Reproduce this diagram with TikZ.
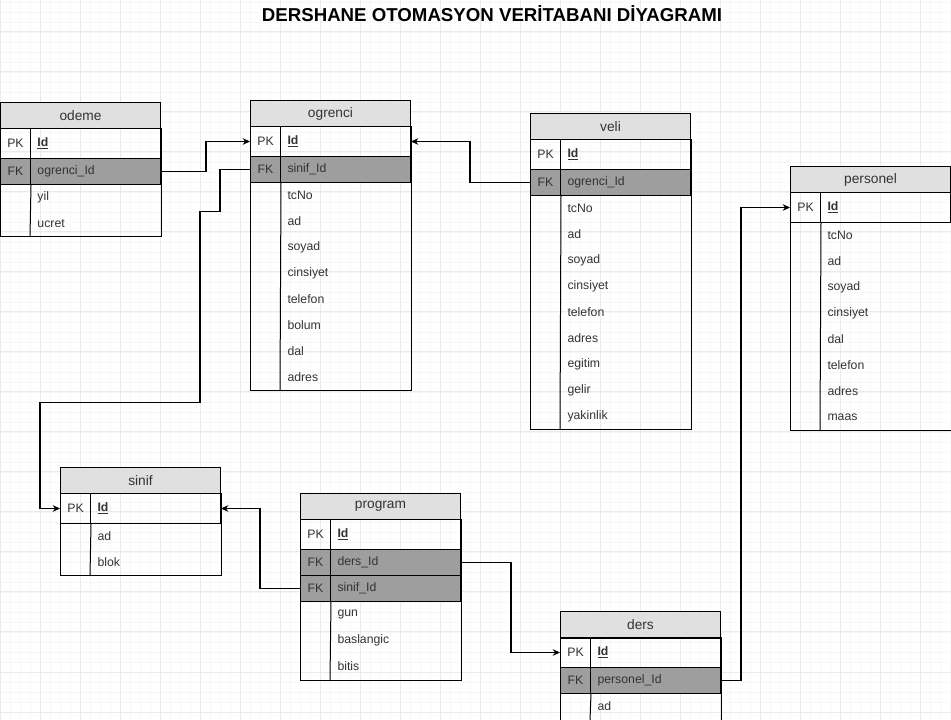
\documentclass[tikz,border=0pt]{standalone}
\usepackage{fontspec}
\setmainfont{Liberation Sans}
\usetikzlibrary{positioning}
\usetikzlibrary{arrows.meta}

\definecolor{hdrgray}{HTML}{E0E0E0}
\definecolor{fkgray}{HTML}{9E9E9E}
\definecolor{txtgray}{HTML}{333333}
\definecolor{minorgrid}{HTML}{F7F7F7}
\definecolor{majorgrid}{HTML}{EAEAEA}

\tikzset{
  tbl/.style={draw, fill=hdrgray, anchor=north west, minimum width=120pt, minimum height=19.5pt,
    inner sep=0pt, text=txtgray, font=\fontsize{10.3}{12}\selectfont},
  keycell/.style={draw, anchor=north west, minimum width=22.5pt, minimum height=22.5pt,
    inner sep=0pt, text=txtgray, font=\fontsize{9.2}{11}\selectfont},
  fieldcell/.style={draw, anchor=north west, minimum height=22.5pt, inner xsep=5.25pt, inner ysep=0pt,
    text width=87pt, align=left, text=txtgray, font=\fontsize{9.2}{11}\selectfont},
  fkrow/.style={fill=fkgray, minimum height=19.5pt},
  attr/.style={anchor=north west, minimum height=19.5pt, inner xsep=5.25pt, inner ysep=0pt,
    text width=87pt, align=left, text=txtgray, font=\fontsize{9.2}{11}\selectfont},
  rel/.style={line width=0.9pt, -{Stealth[length=5.5pt,width=5pt]}},
  frame/.style={line width=0.75pt},
}

\begin{document}
\begin{tikzpicture}[x=0.75pt, y=-0.75pt, line width=0.75pt]
  \useasboundingbox (0,0) rectangle (951,720);

  % background grid
  \foreach \x in {0,10,...,950} \draw[minorgrid, line width=0.5pt] (\x,0) -- (\x,720);
  \foreach \y in {2,12,...,712} \draw[minorgrid, line width=0.5pt] (0,\y) -- (951,\y);
  \foreach \x in {0,40,...,950} \draw[majorgrid] (\x,0) -- (\x,720);
  \foreach \y in {32,72,...,712} \draw[majorgrid] (0,\y) -- (951,\y);

  \node[font=\fontsize{14}{16}\bfseries\selectfont] (title) at (492,14) {DERSHANE OTOMASYON VERİTABANI DİYAGRAMI};

  % odeme
  \node[tbl] (odeme) at (0,102) {odeme};
  \node[keycell] (odeme-pk) at (0,128) {PK};
  \node[fieldcell] (odeme-id) at (30,128) {\underline{\textbf{Id}}};
  \node[keycell, fkrow] (odeme-fk) at (0,158) {FK};
  \node[fieldcell, fkrow] (odeme-ogrenciId) at (30,158) {ogrenci\_Id};
  \foreach \f [count=\i from 0] in {yil,ucret}
    \node[attr] (odeme-a\i) at (30,{184+26*\i}) {\f};
  \draw[frame] (odeme.south west) rectangle (odeme-a1.south east);
  \draw[frame] (odeme-fk.south east) -- (odeme-a1.south west);

  % ogrenci
  \node[tbl] (ogrenci) at (250,100) {ogrenci};
  \node[keycell] (ogrenci-pk) at (250,126) {PK};
  \node[fieldcell] (ogrenci-id) at (280,126) {\underline{\textbf{Id}}};
  \node[keycell, fkrow] (ogrenci-fk) at (250,156) {FK};
  \node[fieldcell, fkrow] (ogrenci-sinifId) at (280,156) {sinif\_Id};
  \foreach \f [count=\i from 0] in {tcNo,ad,soyad,cinsiyet,telefon,bolum,dal,adres}
    \node[attr] (ogrenci-a\i) at (280,{182+26*\i}) {\f};
  \draw[frame] (ogrenci.south west) rectangle (ogrenci-a7.south east);
  \draw[frame] (ogrenci-fk.south east) -- (ogrenci-a7.south west);

  % veli
  \node[tbl] (veli) at (530,113) {veli};
  \node[keycell] (veli-pk) at (530,139) {PK};
  \node[fieldcell] (veli-id) at (560,139) {\underline{\textbf{Id}}};
  \node[keycell, fkrow] (veli-fk) at (530,169) {FK};
  \node[fieldcell, fkrow] (veli-ogrenciId) at (560,169) {ogrenci\_Id};
  \foreach \f [count=\i from 0] in {tcNo,ad,soyad,cinsiyet,telefon,adres,egitim,gelir,yakinlik}
    \node[attr] (veli-a\i) at (560,{195+26*\i}) {\f};
  \draw[frame] (veli.south west) rectangle (veli-a8.south east);
  \draw[frame] (veli-fk.south east) -- (veli-a8.south west);

  % personel
  \node[tbl] (personel) at (790,166) {personel};
  \node[keycell] (personel-pk) at (790,192) {PK};
  \node[fieldcell] (personel-id) at (820,192) {\underline{\textbf{Id}}};
  \foreach \f [count=\i from 0] in {tcNo,ad,soyad,cinsiyet,dal,telefon,adres,maas}
    \node[attr] (personel-a\i) at (820,{222+26*\i}) {\f};
  \draw[frame] (personel.south west) rectangle (personel-a7.south east);
  \draw[frame] (personel-pk.south east) -- (personel-a7.south west);

  % sinif
  \node[tbl] (sinif) at (60,467) {sinif};
  \node[keycell] (sinif-pk) at (60,493) {PK};
  \node[fieldcell] (sinif-id) at (90,493) {\underline{\textbf{Id}}};
  \foreach \f [count=\i from 0] in {ad,blok}
    \node[attr] (sinif-a\i) at (90,{523+26*\i}) {\f};
  \draw[frame] (sinif.south west) rectangle (sinif-a1.south east);
  \draw[frame] (sinif-pk.south east) -- (sinif-a1.south west);

  % program
  \node[tbl] (program) at (300,493) {program};
  \node[keycell] (program-pk) at (300,519) {PK};
  \node[fieldcell] (program-id) at (330,519) {\underline{\textbf{Id}}};
  \node[keycell, fkrow] (program-fk1) at (300,549) {FK};
  \node[fieldcell, fkrow] (program-dersId) at (330,549) {ders\_Id};
  \node[keycell, fkrow] (program-fk2) at (300,575) {FK};
  \node[fieldcell, fkrow] (program-sinifId) at (330,575) {sinif\_Id};
  \foreach \f [count=\i from 0] in {gun,baslangic,bitis}
    \node[attr] (program-a\i) at (330,{601+26*\i}) {\f};
  \draw[frame] (program.south west) rectangle (program-a2.south east);
  \draw[frame] (program-fk2.south east) -- (program-a2.south west);

  % ders
  \node[tbl] (ders) at (560,611) {ders};
  \node[keycell] (ders-pk) at (560,637) {PK};
  \node[fieldcell] (ders-id) at (590,637) {\underline{\textbf{Id}}};
  \node[keycell, fkrow] (ders-fk) at (560,667) {FK};
  \node[fieldcell, fkrow] (ders-personelId) at (590,667) {personel\_Id};
  \foreach \f [count=\i from 0] in {ad}
    \node[attr] (ders-a\i) at (590,{693+26*\i}) {\f};
  \draw[frame] (ders.south west) rectangle (ders-a0.south east);
  \draw[frame] (ders-fk.south east) -- (ders-a0.south west);

  % relations
  \draw[rel] (odeme-ogrenciId.east) -- ++(45,0) |- (ogrenci-pk.west);
  \draw[rel] (ogrenci-fk.west) -- ++(-30,0) -- ++(0,42) -- ++(-20,0) -- ++(0,191) -- ++(-160,0) |- (sinif-pk.west);
  \draw[rel] (veli-fk.west) -- ++(-60,0) |- (ogrenci-id.east);
  \draw[rel] (program-fk2.west) -- ++(-40,0) |- (sinif-id.east);
  \draw[rel] (program-dersId.east) -- ++(50,0) |- (ders-pk.west);
  \draw[rel] (ders-personelId.east) -- ++(20,0) |- (personel-pk.west);
\end{tikzpicture}
\end{document}
